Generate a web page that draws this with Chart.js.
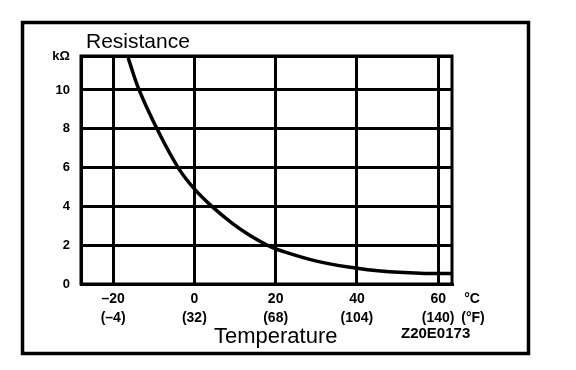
<!DOCTYPE html>
<html>
<head>
<meta charset="utf-8">
<script src="https://cdn.jsdelivr.net/npm/chart.js@4/dist/chart.umd.min.js"></script>
<style>
  html, body { margin: 0; padding: 0; background: #fff; }
  #wrap { width: 576px; height: 370px; }
</style>
</head>
<body>
<div id="wrap"><canvas id="c" width="576" height="370"></canvas></div>
<script>
// thermistor curve: temperature (°C) vs resistance (kΩ)
const tempC = [-16.3, -13.6, -9.2, -4.0, 0, 4.3, 9.5, 13.7, 18.2, 20.4, 30.1, 39.6, 45.8, 55.6, 63.4];
const resistance = [11.65, 10, 8, 6, 4.9, 4, 3.1, 2.5, 1.97, 1.78, 1.18, 0.82, 0.67, 0.56, 0.54];

const xTicksC = [-20, 0, 20, 40, 60];
const xTicksF = ['(–4)', '(32)', '(68)', '(104)', '(140)'];
const yTicks = [0, 2, 4, 6, 8, 10];
const yUnit = 'kΩ';
const xMin = -27.9, xMax = 63.4;
const yMin = 0, yMax = 11.75;

const FONT = '"Liberation Sans", Arial, sans-serif';

const frame = {
  id: 'frame',
  afterDraw(chart) {
    const { ctx, chartArea: a } = chart;
    ctx.save();
    // plot box
    ctx.strokeStyle = '#000';
    ctx.lineWidth = 3;
    ctx.strokeRect(a.left, a.top, a.right - a.left, a.bottom - a.top);
    // outer frame
    ctx.lineWidth = 3.5;
    ctx.strokeRect(22.5, 22.5, 506, 331);
    ctx.fillStyle = '#000';
    ctx.textBaseline = 'alphabetic';
    ctx.textAlign = 'left';
    ctx.font = '21px ' + FONT;
    ctx.fillText('Resistance', 86, 48);
    ctx.font = '22px ' + FONT;
    ctx.fillText('Temperature', 214, 343);
    ctx.font = 'bold 15px ' + FONT;
    ctx.fillText('Z20E0173', 401, 338);
    ctx.font = 'bold 14px ' + FONT;
    ctx.textAlign = 'center';
    ctx.fillText('°C', a.right + 20, 303);
    ctx.fillText('(°F)', a.right + 21, 322);
    ctx.restore();
  }
};

new Chart(document.getElementById('c'), {
  type: 'line',
  data: {
    datasets: [{
      data: tempC.map((t, i) => ({ x: t, y: resistance[i] })),
      borderColor: '#000',
      borderWidth: 3.5,
      pointRadius: 0,
      tension: 0.4,
      fill: false,
    }]
  },
  options: {
    responsive: false,
    animation: false,
    layout: { padding: { top: 56, right: 124, bottom: 0, left: 0 } },
    plugins: { legend: { display: false }, tooltip: { enabled: false } },
    scales: {
      x: {
        type: 'linear',
        min: xMin, max: xMax,
        afterBuildTicks: s => { s.ticks = xTicksC.map(v => ({ value: v })); },
        afterFit: s => { s.height = 86; },
        grid: { color: '#000', lineWidth: 3, drawTicks: false },
        border: { color: '#000', width: 3 },
        ticks: {
          color: '#000',
          padding: 6,
          font: { family: FONT, size: 14, weight: 'bold', lineHeight: 1.35 },
          callback: (v, i) => [String(xTicksC[i]).replace('-', '–'), xTicksF[i]],
          maxRotation: 0,
        }
      },
      y: {
        type: 'linear',
        min: yMin, max: yMax,
        afterBuildTicks: s => { s.ticks = yTicks.concat([yMax]).map(v => ({ value: v })); },
        afterFit: s => { s.width = 81; },
        grid: { color: '#000', lineWidth: 3, drawTicks: false },
        border: { color: '#000', width: 3 },
        ticks: {
          color: '#000',
          padding: 11,
          font: { family: FONT, size: 13, weight: 'bold' },
          callback: (v, i) => (i < yTicks.length ? String(yTicks[i]) : yUnit),
        }
      }
    }
  },
  plugins: [frame]
});
</script>
</body>
</html>
